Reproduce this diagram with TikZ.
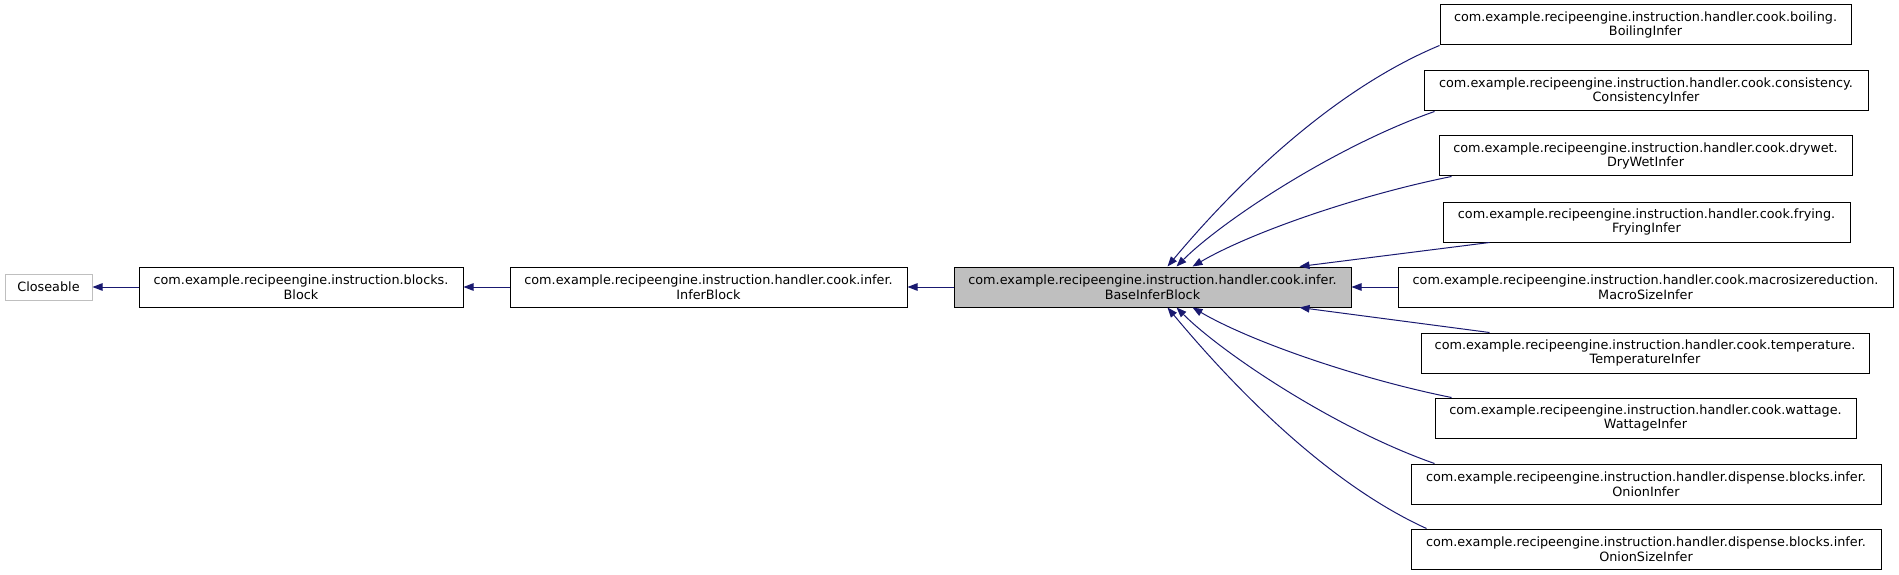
\documentclass[tikz,border=0pt]{standalone}
\usepackage{fontspec}
\setmainfont{DejaVu Sans}
\usetikzlibrary{arrows.meta}
\definecolor{edgeblue}{RGB}{25,25,112}
\definecolor{basegray}{RGB}{191,191,191}
\tikzset{
  cls/.style={draw=black, line width=1pt, rectangle, inner sep=0pt, minimum height=40pt, align=center,
    font=\fontsize{12.8}{14.7}\selectfont},
  ext/.style={cls, draw=basegray, minimum height=26pt},
  inh/.style={draw=edgeblue, line width=1pt, -{Triangle[length=10pt,width=7.5pt]}, fill=none},
}
\begin{document}
\begin{tikzpicture}[x=1pt,y=-1pt]
\useasboundingbox (0,0) rectangle (1899,575);
\node[ext, minimum width=87pt] (closeable) at (48.5,287) {Closeable};
\node[cls, minimum width=324pt] (block) at (301,287) {com.example.recipeengine.instruction.blocks.\\Block};
\node[cls, minimum width=397pt] (infer) at (708.5,287) {com.example.recipeengine.instruction.handler.cook.infer.\\InferBlock};
\node[cls, fill=basegray, minimum width=397pt] (base) at (1152.5,287) {com.example.recipeengine.instruction.handler.cook.infer.\\BaseInferBlock};

\node[cls, minimum width=411pt] (boil) at (1645.5,25) {com.example.recipeengine.instruction.handler.cook.boiling.\\BoilingInfer};
\node[cls, minimum width=444pt] (cons) at (1646,91) {com.example.recipeengine.instruction.handler.cook.consistency.\\ConsistencyInfer};
\node[cls, minimum width=413pt] (dry) at (1645.5,156) {com.example.recipeengine.instruction.handler.cook.drywet.\\DryWetInfer};
\node[cls, minimum width=407pt] (fry) at (1646.5,222) {com.example.recipeengine.instruction.handler.cook.frying.\\FryingInfer};
\node[cls, minimum width=495pt] (macro) at (1645.5,287) {com.example.recipeengine.instruction.handler.cook.macrosizereduction.\\MacroSizeInfer};
\node[cls, minimum width=448pt] (temp) at (1645,353) {com.example.recipeengine.instruction.handler.cook.temperature.\\TemperatureInfer};
\node[cls, minimum width=421pt] (watt) at (1645.5,418) {com.example.recipeengine.instruction.handler.cook.wattage.\\WattageInfer};
\node[cls, minimum width=470pt] (onion) at (1646,484) {com.example.recipeengine.instruction.handler.dispense.blocks.infer.\\OnionInfer};
\node[cls, minimum width=470pt] (onionsize) at (1646,549) {com.example.recipeengine.instruction.handler.dispense.blocks.infer.\\OnionSizeInfer};

\draw[inh] (block.west) -- (closeable.east);
\draw[inh] (infer.west) -- (block.east);
\draw[inh] (base.west) -- (infer.east);

\draw[inh] (boil.south west) .. controls +(-120,50) and +(50,-60) .. ([xshift=214pt]base.north west);
\draw[inh] ([xshift=11pt]cons.south west) .. controls +(-100,35) and +(45,-45) .. ([xshift=223pt]base.north west);
\draw[inh] ([xshift=13pt]dry.south west) .. controls +(-90,18) and +(60,-35) .. ([xshift=239pt]base.north west);
\draw[inh] ([xshift=47pt]fry.south west) -- ([xshift=346pt]base.north west);
\draw[inh] (macro.west) -- (base.east);
\draw[inh] ([xshift=69pt]temp.north west) -- ([xshift=346pt]base.south west);
\draw[inh] ([xshift=17pt]watt.north west) .. controls +(-90,-18) and +(60,35) .. ([xshift=239pt]base.south west);
\draw[inh] ([xshift=24pt]onion.north west) .. controls +(-100,-35) and +(45,45) .. ([xshift=223pt]base.south west);
\draw[inh] ([xshift=16pt]onionsize.north west) .. controls +(-110,-50) and +(50,60) .. ([xshift=214pt]base.south west);
\end{tikzpicture}
\end{document}
